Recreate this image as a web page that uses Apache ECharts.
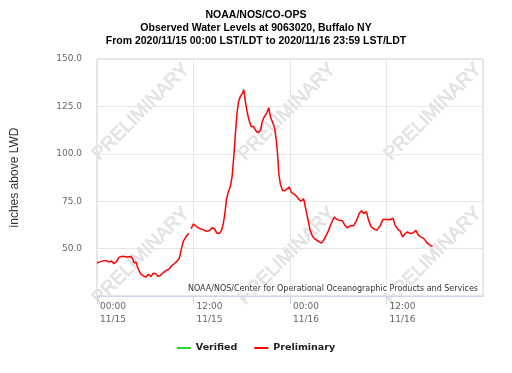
<!DOCTYPE html>
<html>
<head>
<meta charset="utf-8">
<script src="https://cdn.jsdelivr.net/npm/echarts@6/dist/echarts.min.js"></script>
<style>
html,body{margin:0;padding:0;background:#fff;}
#chart{width:512px;height:373px;}
</style>
</head>
<body>
<div id="chart"></div>
<script>
// Hours since 2020/11/15 00:00 LST/LDT
var hours = [0.0,0.3,0.7,1.1,1.5,1.8,2.1,2.4,2.75,3.2,3.7,4.2,4.45,4.6,4.85,5.1,5.45,5.8,6.1,6.4,6.7,7.0,7.3,7.6,7.9,8.3,8.6,8.9,9.3,9.6,10.0,10.25,10.5,10.75,11.1,11.4,11.55,11.7,12.0,12.1,12.4,12.8,13.2,13.6,14.0,14.3,14.6,14.9,15.2,15.45,15.7,15.9,16.1,16.3,16.6,16.8,17.0,17.2,17.4,17.6,17.8,18.1,18.25,18.45,18.7,18.95,19.2,19.45,19.6,19.85,20.1,20.35,20.55,20.8,21.1,21.35,21.6,21.85,22.1,22.3,22.45,22.6,22.8,23.1,23.4,23.6,23.9,24.2,24.45,24.85,25.1,25.35,25.7,25.9,26.15,26.5,26.8,27.1,27.5,27.9,28.2,28.4,28.7,29.1,29.5,29.8,30.1,30.5,30.8,31.1,31.5,31.9,32.3,32.6,32.9,33.2,33.5,33.8,34.1,34.4,34.8,35.2,35.55,36.0,36.4,36.8,37.1,37.4,37.7,38.0,38.3,38.6,38.9,39.3,39.65,39.9,40.2,40.6,40.9,41.2,41.5,41.75];
var preliminary = [42.3,43.0,43.4,43.8,42.9,43.5,42.0,43.0,45.5,46.0,45.6,45.8,44.5,42.5,42.8,39.5,36.5,35.5,35.0,36.5,35.2,37.0,36.8,35.3,36.0,37.5,38.5,39.0,41.0,42.0,43.5,45.0,50.0,54.0,56.5,58.0,null,60.5,63.0,64.0,61.5,60.5,60.0,59.1,59.5,61.0,60.5,58.2,58.0,59.3,63.0,68.4,76.0,79.5,83.0,88.0,98.0,110.0,121.0,127.5,130.0,132.0,133.8,127.5,121.5,117.0,114.2,114.5,115.5,111.6,111.2,112.5,117.0,119.5,121.5,124.3,119.0,116.5,113.4,107.0,100.0,90.0,84.0,80.5,80.7,80.4,82.5,79.5,79.0,77.5,76.0,75.0,76.2,72.0,67.0,59.8,56.5,55.0,54.0,52.9,54.5,55.0,58.7,63.0,66.6,65.5,65.0,64.8,62.5,61.0,62.0,62.0,65.0,68.5,70.0,68.5,69.5,64.5,61.5,60.5,59.6,62.0,65.3,65.4,65.2,66.0,62.0,60.3,59.2,56.1,57.8,58.8,58.0,58.2,59.6,57.5,56.2,55.5,53.8,52.5,51.5,51.2];
var verified = [];
var xTickValues = [0, 12, 24, 36];
var xTickLabels = ["00:00\n11/15", "12:00\n11/15", "00:00\n11/16", "12:00\n11/16"];
var seriesNames = ["Verified", "Preliminary"];
var titleLines = ["NOAA/NOS/CO-OPS", "Observed Water Levels at 9063020, Buffalo NY", "From 2020/11/15 00:00 LST/LDT to 2020/11/16 23:59 LST/LDT"];
var yAxisTitle = "inches above LWD";
var creditText = "NOAA/NOS/Center for Operational Oceanographic Products and Services";
var watermarkText = "PRELIMINARY";

var prelimData = hours.map(function (h, i) { return [h, preliminary[i]]; });
var verifiedData = verified.map(function (v) { return v; });

var chart = echarts.init(document.getElementById('chart'), null, {renderer: 'canvas'});

var wmPos = [[141, 112], [287, 112], [433, 112], [141, 256], [287, 256], [433, 256]];
var graphics = wmPos.map(function (p) {
  return {
    type: 'text', x: p[0], y: p[1], rotation: Math.PI / 4, z: 0, silent: true,
    style: {
      text: watermarkText, x: 0, y: 0, align: 'center', verticalAlign: 'middle',
      font: '19px "Liberation Sans", Arial, sans-serif',
      fill: '#e4e4e4', stroke: '#d6d6d6', lineWidth: 0.6
    }
  };
});
graphics.push({
  type: 'text', x: 478, y: 289, z: 10, silent: true,
  style: {
    text: creditText, align: 'right', verticalAlign: 'middle',
    font: '8px "DejaVu Sans", Verdana, sans-serif', fill: '#333',
    backgroundColor: '#fff'
  }
});

chart.setOption({
  animation: false,
  backgroundColor: '#fff',
  title: {
    text: titleLines.join('\n'),
    left: 'center', top: 4,
    textStyle: {
      fontFamily: '"Liberation Sans", Arial, sans-serif',
      fontSize: 10.5, fontWeight: 'bold', color: '#000', lineHeight: 13
    }
  },
  legend: {
    data: seriesNames,
    left: 'center', top: 338,
    icon: 'rect', itemWidth: 14, itemHeight: 2, itemGap: 17,
    textStyle: {
      fontFamily: '"DejaVu Sans", Verdana, sans-serif',
      fontSize: 9.5, fontWeight: 'bold', color: '#222'
    }
  },
  grid: {
    left: 97, right: 29, top: 59, bottom: 77,
    show: true, borderColor: '#cccccc', borderWidth: 1, backgroundColor: 'transparent'
  },
  graphic: graphics,
  xAxis: {
    type: 'value', min: 0, max: 48, interval: 12,
    axisLine: {show: true, lineStyle: {color: '#ccd6eb', width: 1}},
    axisTick: {show: true, length: 8, lineStyle: {color: '#ccd6eb'}, customValues: xTickValues},
    splitLine: {show: true, lineStyle: {color: '#e6e6e6', width: 1}},
    axisLabel: {
      customValues: xTickValues,
      formatter: function (v) { var i = xTickValues.indexOf(v); return i >= 0 ? xTickLabels[i] : ''; },
      align: 'left', padding: [0, 0, 0, 3], margin: 4,
      fontFamily: '"DejaVu Sans", Verdana, sans-serif', fontSize: 9, lineHeight: 13, color: '#666'
    }
  },
  yAxis: {
    type: 'value', min: 25, max: 150, interval: 25,
    name: yAxisTitle, nameLocation: 'middle', nameGap: 76, nameRotate: 90,
    nameTextStyle: {fontFamily: '"Liberation Sans", Arial, sans-serif', fontSize: 12, color: '#333'},
    axisLine: {show: false}, axisTick: {show: false},
    splitLine: {show: true, lineStyle: {color: '#e6e6e6', width: 1}},
    axisLabel: {
      showMinLabel: false, margin: 15,
      formatter: function (v) { return v.toFixed(1); },
      fontFamily: '"DejaVu Sans", Verdana, sans-serif', fontSize: 9, color: '#666'
    }
  },
  series: [
    {name: seriesNames[0], type: 'line', data: verifiedData, showSymbol: false,
     itemStyle: {color: '#22dd22'}, lineStyle: {color: '#22dd22', width: 1.5}},
    {name: seriesNames[1], type: 'line', data: prelimData, showSymbol: false, connectNulls: false,
     itemStyle: {color: '#ff0000'}, lineStyle: {color: '#ff0000', width: 1.5}, z: 5}
  ]
});
</script>
</body>
</html>
